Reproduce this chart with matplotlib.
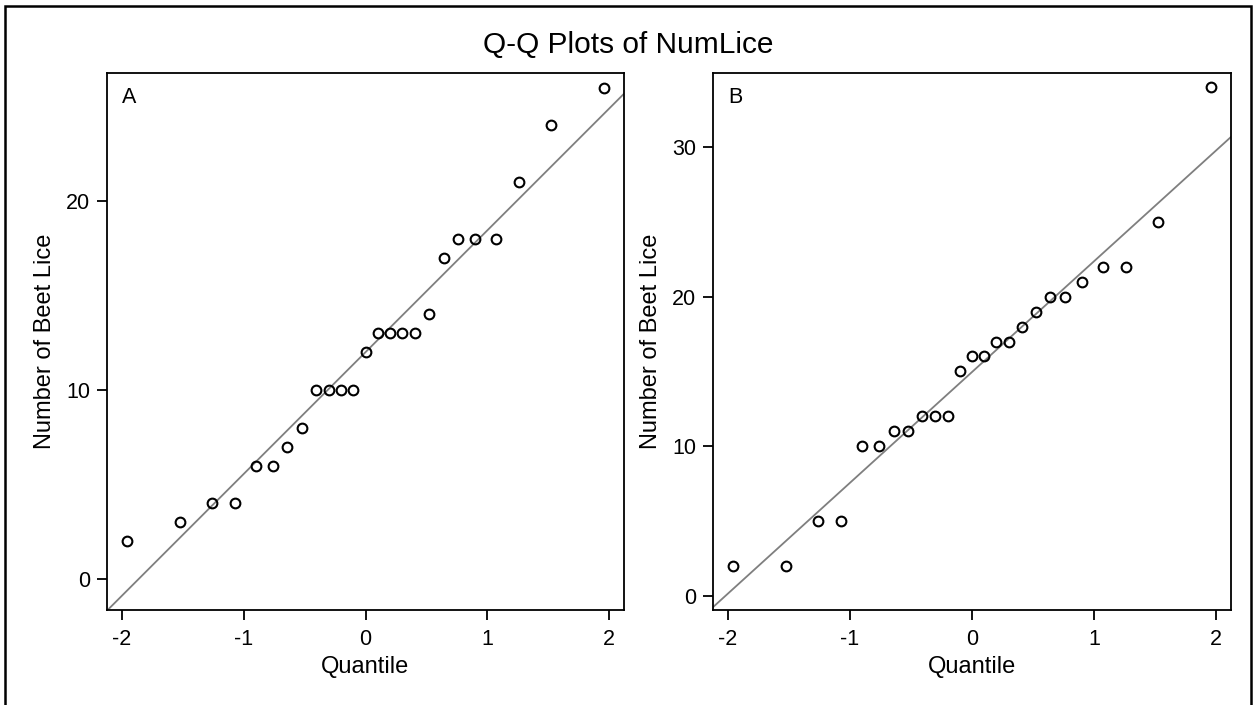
import matplotlib
matplotlib.use("Agg")
import matplotlib.pyplot as plt
from matplotlib.patches import Rectangle
import numpy as np

plt.rcParams['font.family'] = ['Liberation Sans', 'DejaVu Sans']

# Normal quantiles (x positions)
quantiles = [-1.96, -1.52, -1.26, -1.07, -0.90, -0.76, -0.64, -0.52, -0.41, -0.30,
             -0.20, -0.10, 0.00, 0.10, 0.20, 0.30, 0.41, 0.52, 0.64, 0.76,
             0.90, 1.07, 1.26, 1.52, 1.96]

lice_a = [2, 3, 4, 4, 6, 6, 7, 8, 10, 10, 10, 10, 12, 13, 13, 13, 13, 14, 17, 18,
          18, 18, 21, 24, 26]
lice_b = [2, 2, 5, 5, 10, 10, 11, 11, 12, 12, 12, 15, 16, 16, 17, 17, 18, 19, 20, 20,
          21, 22, 22, 25, 34]

# Reference line parameters (mu, sigma)
ref_a = (12.0, 6.45)
ref_b = (14.96, 7.41)

panel_labels = ["A", "B"]
title = "Q-Q Plots of NumLice"
xlabel = "Quantile"
ylabel = "Number of Beet Lice"
xticks = [-2, -1, 0, 1, 2]
yticks_a = [0, 10, 20]
yticks_b = [0, 10, 20, 30]

W, H = 1257, 705
fig = plt.figure(figsize=(W / 100, H / 100), dpi=100)

# outer border
fig.patches.append(Rectangle((5 / W, -0.02), (1251 - 5) / W, (H - 6) / H + 0.02,
                             transform=fig.transFigure, fill=False,
                             edgecolor='black', linewidth=1.8, clip_on=False))

fig.text(0.5, 1 - 45 / H, title, ha='center', va='center', fontsize=21.5)

def px_axes(l, r, t, b):
    return [l / W, (H - b) / H, (r - l) / W, (b - t) / H]

axA = fig.add_axes(px_axes(107, 624, 73, 610))
axB = fig.add_axes(px_axes(713, 1231, 73, 610))

panels = [
    (axA, lice_a, ref_a, yticks_a, (-1.64, 26.77), panel_labels[0]),
    (axB, lice_b, ref_b, yticks_b, (-0.94, 34.94), panel_labels[1]),
]

xlim = (-2.12, 2.12)
for ax, vals, (mu, sig), yt, ylim, lab in panels:
    xx = np.array(xlim)
    ax.plot(xx, mu + sig * xx, color='#7f7f7f', lw=1.3, zorder=2)
    ax.plot(quantiles, vals, linestyle='none', marker='o', ms=7.0,
            mfc='none', mec='black', mew=1.5, zorder=3)
    ax.set_xlim(*xlim)
    ax.set_ylim(*ylim)
    ax.set_xticks(xticks)
    ax.set_xticklabels([str(t) for t in xticks])
    ax.set_yticks(yt)
    ax.set_yticklabels([str(t) for t in yt])
    for s in ax.spines.values():
        s.set_linewidth(1.3)
    ax.tick_params(axis='both', direction='out', length=7, width=1.3,
                   labelsize=15.5, colors='black')
    ax.tick_params(axis='x', pad=7)
    ax.tick_params(axis='y', pad=5)
    ax.set_xlabel(xlabel, fontsize=17, labelpad=4)
    ax.set_ylabel(ylabel, fontsize=17, labelpad=7)
    ax.text(15 / 517, 1 - 14 / 537, lab, transform=ax.transAxes,
            ha='left', va='top', fontsize=15.5)

fig.savefig("out.png", dpi=100)
